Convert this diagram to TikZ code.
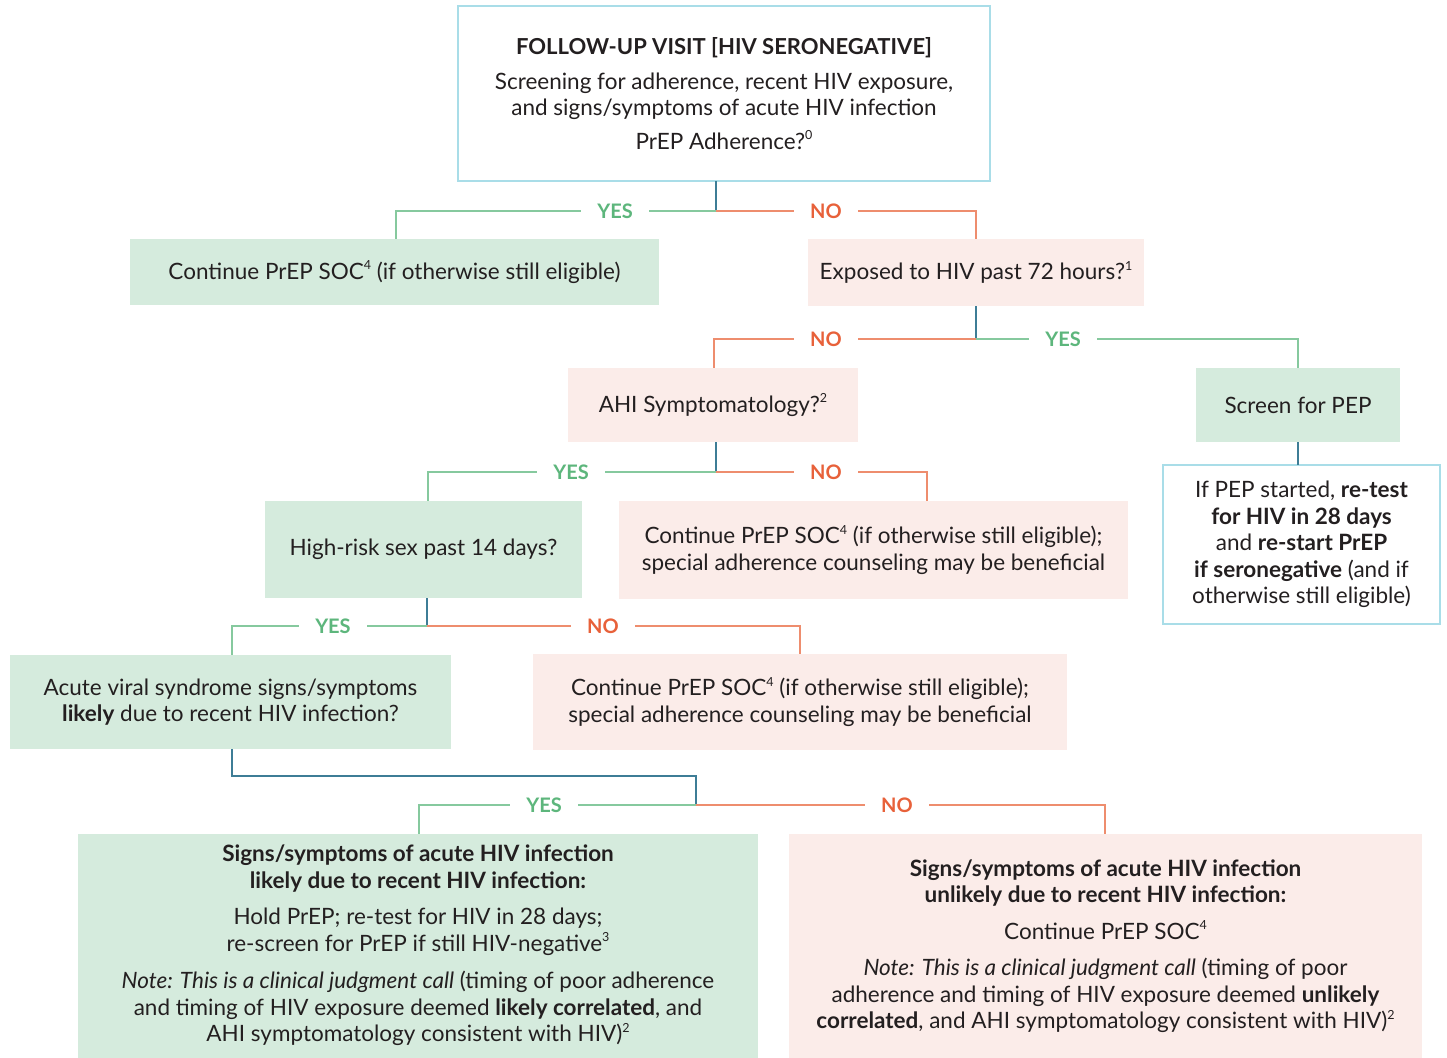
\documentclass[tikz,border=0pt]{standalone}
\usepackage{fontspec}
\setmainfont{Lato}
\definecolor{gfill}{HTML}{D5EBDD}
\definecolor{pfill}{HTML}{FBECE9}
\definecolor{topb}{HTML}{A9DDE8}
\definecolor{glc}{HTML}{86C99E}
\definecolor{olc}{HTML}{EE8D6E}
\definecolor{stemc}{HTML}{3E7D96}
\definecolor{yesc}{HTML}{5DB67C}
\definecolor{noc}{HTML}{E8613A}
\definecolor{txt}{HTML}{231F20}
\newcommand\mfs{\fontsize{22.5}{26.5}\selectfont}
\newcommand\su[1]{\raisebox{0.42em}{\fontsize{12.5}{12.5}\selectfont #1}}
\begin{document}
\begin{tikzpicture}[x=1pt,y=-1pt,
  box/.style={draw=none, inner sep=0pt, outer sep=0pt, align=center, text=txt, font=\mfs},
  gbox/.style={box, fill=gfill},
  pbox/.style={box, fill=pfill},
  wbox/.style={box, fill=white, draw=topb, line width=1.3pt},
  lab/.style={fill=white, inner xsep=16pt, inner ysep=2pt, font=\fontsize{20}{20}\selectfont\bfseries},
  yes/.style={lab, text=yesc},
  no/.style={lab, text=noc},
  gl/.style={draw=glc, line width=1.3pt},
  ol/.style={draw=olc, line width=1.3pt},
  st/.style={draw=stemc, line width=1.3pt}]
\useasboundingbox (0,0) rectangle (1447,1057);
\fill[white] (0,0) rectangle (1447,1057);

% boxes
\node[wbox, minimum width=532pt, minimum height=175pt] (top) at (724,93.5)
  {\fontsize{22}{24}\selectfont\bfseries FOLLOW-UP VISIT [HIV SERONEGATIVE]\\[8pt]
   \fontsize{22.5}{24}\selectfont Screening for adherence, recent HIV exposure,\\
   and signs/symptoms of acute HIV infection\\[7pt]
   PrEP Adherence?\su{0}};
\node[gbox, minimum width=529pt, minimum height=66pt] (A) at (394.5,272)
  {Continue PrEP SOC\su{4} (if otherwise still eligible)};
\node[pbox, minimum width=336pt, minimum height=67pt] (B) at (976,272.5)
  {Exposed to HIV past 72 hours?\su{1}};
\node[pbox, minimum width=290pt, minimum height=74pt] (C) at (713,405)
  {AHI Symptomatology?\su{2}};
\node[gbox, minimum width=204pt, minimum height=74pt] (D) at (1298,405)
  {Screen for PEP};
\node[wbox, minimum width=277pt, minimum height=159pt] (E) at (1301.5,544.5)
  {\fontsize{22.5}{24}\selectfont If PEP started, \textbf{re-test}\\
   \textbf{for HIV in 28 days}\\
   and \textbf{re-start PrEP}\\
   \textbf{if seronegative} (and if\\
   otherwise still eligible)};
\node[gbox, minimum width=317pt, minimum height=97pt] (F) at (423.5,549.5)
  {High-risk sex past 14 days?};
\node[pbox, minimum width=509pt, minimum height=98pt] (G) at (873.5,550)
  {\fontsize{22.5}{28}\selectfont Continue PrEP SOC\su{4} (if otherwise still eligible);\\
   special adherence counseling may be beneficial};
\node[gbox, minimum width=441pt, minimum height=94pt] (H) at (230.5,702)
  {\fontsize{22.5}{27}\selectfont Acute viral syndrome signs/symptoms\\
   \textbf{likely} due to recent HIV infection?};
\node[pbox, minimum width=534pt, minimum height=96pt] (I) at (800,702)
  {\fontsize{22.5}{27}\selectfont Continue PrEP SOC\su{4} (if otherwise still eligible);\\
   special adherence counseling may be beneficial};
\node[gbox, minimum width=680pt, minimum height=224pt] (J) at (418,945.5)
  {\textbf{Signs/symptoms of acute HIV infection}\\
   \textbf{likely due to recent HIV infection:}\\[10pt]
   Hold PrEP; re-test for HIV in 28 days;\\
   re-screen for PrEP if still HIV-negative\su{3}\\[11pt]
   \textit{Note: This is a clinical judgment call} (timing of poor adherence\\
   and timing of HIV exposure deemed \textbf{likely correlated}, and\\
   AHI symptomatology consistent with HIV)\su{2}};
\node[pbox, minimum width=633pt, minimum height=225pt] (K) at (1105.5,946)
  {\textbf{Signs/symptoms of acute HIV infection}\\
   \textbf{unlikely due to recent HIV infection:}\\[10pt]
   Continue PrEP SOC\su{4}\\[10pt]
   \textit{Note: This is a clinical judgment call} (timing of poor\\
   adherence and timing of HIV exposure deemed \textbf{unlikely}\\
   \textbf{correlated}, and AHI symptomatology consistent with HIV)\su{2}};

% level 1
\coordinate (j1) at (716,211);
\draw[st] (j1 |- top.south) -- (j1);
\draw[gl] (j1) -| ([xshift=1.5pt]A.north);
\draw[ol] (j1) -| (B.north);
\node[yes] (l1) at (615,211) {YES};
\node[no] (l2) at (826,211) {NO};

% level 2
\coordinate (j2) at (976,339);
\draw[st] (B.south) -- (j2);
\draw[ol] (j2) -| ([xshift=1pt]C.north);
\draw[gl] (j2) -| (D.north);
\node[no] (l3) at (826,339) {NO};
\node[yes] (l4) at (1063,339) {YES};
\draw[st] (D.south) -- (D.south |- E.north);

% level 3
\coordinate (j3) at (716,472);
\draw[st] (j3 |- C.south) -- (j3);
\draw[gl] (j3) -| ([xshift=4.5pt]F.north);
\draw[ol] (j3) -| ([xshift=53.5pt]G.north);
\node[yes] (l5) at (571,472) {YES};
\node[no] (l6) at (826,472) {NO};

% level 4
\coordinate (j4) at (427,626);
\draw[st] (j4 |- F.south) -- (j4);
\draw[gl] (j4) -| ([xshift=1.5pt]H.north);
\draw[ol] (j4) -| (I.north);
\node[yes] (l7) at (333,626) {YES};
\node[no] (l8) at (603,626) {NO};

% level 5
\coordinate (k5) at (696,776);
\coordinate (j5) at (696,805);
\draw[st] ([xshift=1.5pt]H.south) |- (k5) -- (j5);
\draw[gl] (j5) -| ([xshift=1pt]J.north);
\draw[ol] (j5) -| ([xshift=-0.5pt]K.north);
\node[yes] (l9) at (544,805) {YES};
\node[no] (l10) at (897,805) {NO};
\end{tikzpicture}
\end{document}
